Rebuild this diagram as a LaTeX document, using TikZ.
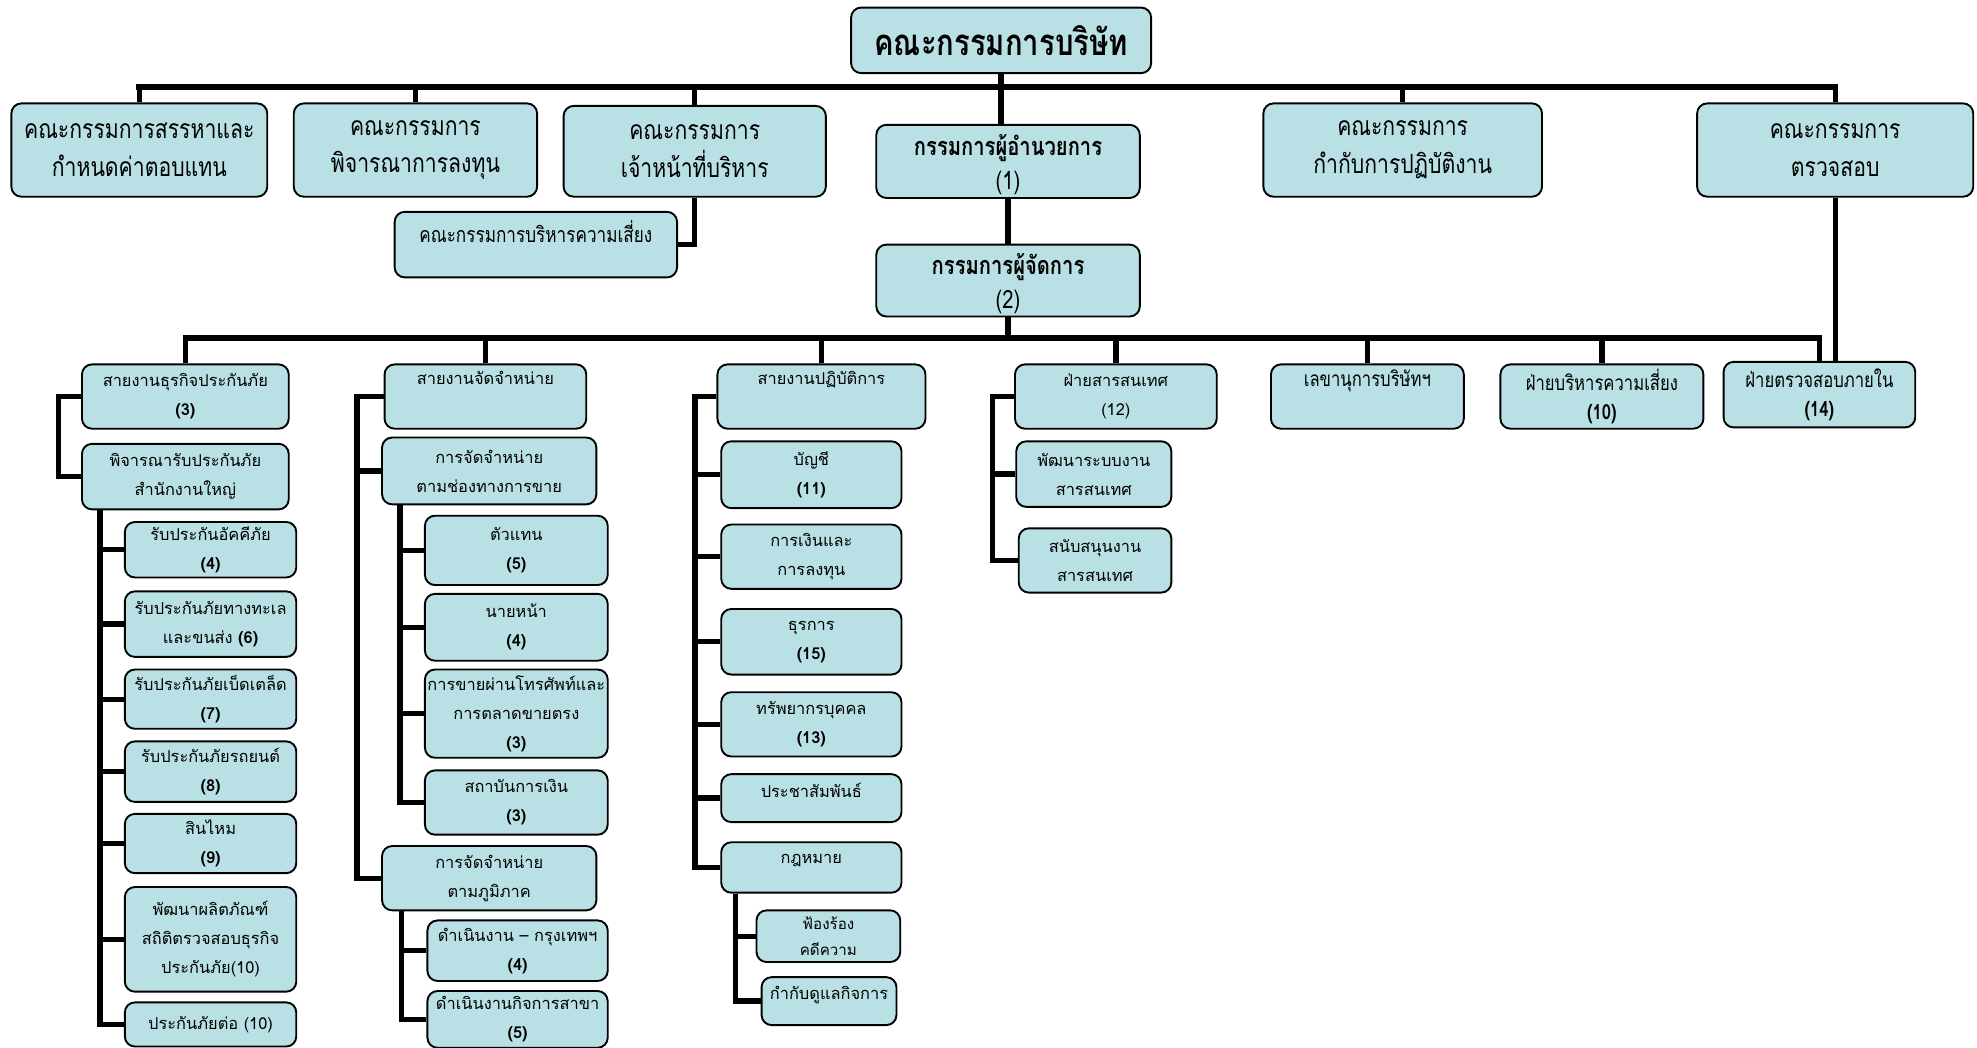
\documentclass[tikz,border=0pt]{standalone}
\usepackage{fontspec}
\setmainfont{Loma}[Script=Thai]
\newfontfamily\narrowthai{Loma}[Script=Thai,FakeStretch=0.8]
\definecolor{boxfill}{RGB}{185,224,228}

\begin{document}
\begin{tikzpicture}[x=1pt, y=-1pt,
    box/.style={draw=black, line width=1.5pt, rounded corners=8pt, fill=boxfill, align=center, inner sep=2pt},
    board/.style={box, font=\narrowthai\bfseries\fontsize{29}{30}\selectfont},
    comm/.style={box, font=\narrowthai\fontsize{21}{30}\selectfont},
    head/.style={box, inner ysep=0pt, font=\narrowthai\fontsize{20}{27}\selectfont},
    unit/.style={box, font=\fontsize{13}{23}\selectfont},
    unitn/.style={box, font=\narrowthai\fontsize{16.5}{23}\selectfont},
    link/.style={line width=4.2pt},
    bus/.style={line width=4.5pt, line cap=rect}]
  \useasboundingbox (0,0) rectangle (1568,831);

  % board and committees
  \node[board, minimum width=238, minimum height=52] (board) at (794,32) {คณะกรรมการบริษัท};
  \node[comm, minimum width=203, minimum height=74] (c1) at (110.5,119) {คณะกรรมการสรรหาและ\\กำหนดค่าตอบแทน};
  \node[comm, minimum width=193, minimum height=74] (c2) at (329.5,119) {คณะกรรมการ\\พิจารณาการลงทุน};
  \node[comm, minimum width=208, minimum height=72] (c3) at (551,120) {คณะกรรมการ\\เจ้าหน้าที่บริหาร};
  \node[head, minimum width=209, minimum height=58] (ceo) at (799.5,128) {\rule{0pt}{22pt}\textbf{กรรมการผู้อำนวยการ}\\(1)};
  \node[comm, minimum width=221, minimum height=74] (c4) at (1112.5,119) {คณะกรรมการ\\กำกับการปฏิบัติงาน};
  \node[comm, minimum width=219, minimum height=74] (c5) at (1455.5,119) {คณะกรรมการ\\ตรวจสอบ};
  \node[comm, font=\narrowthai\fontsize{17}{28}\selectfont, minimum width=224, minimum height=52] (risk) at (425,194) {คณะกรรมการบริหารความเสี่ยง\\[-16pt]\strut};
  \node[head, minimum width=209, minimum height=57] (md) at (799.5,222.5) {\rule{0pt}{22pt}\textbf{กรรมการผู้จัดการ}\\(2)};

  % divisions
  \node[unit, minimum width=164, minimum height=51] (d1) at (147,314.5) {สายงานธุรกิจประกันภัย\\\textbf{(3)}};
  \node[unit, minimum width=160, minimum height=51] (d2) at (385,314.5) {สายงานจัดจำหน่าย\\\strut};
  \node[unit, minimum width=165, minimum height=51] (d3) at (651.5,314.5) {สายงานปฏิบัติการ\\\strut};
  \node[unit, minimum width=160, minimum height=51] (d4) at (885,314.5) {ฝ่ายสารสนเทศ\\(12)};
  \node[unitn, minimum width=153, minimum height=51] (d5) at (1084.5,314.5) {เลขานุการบริษัทฯ\\\strut};
  \node[unitn, minimum width=161, minimum height=51] (d6) at (1270.5,314.5) {ฝ่ายบริหารความเสี่ยง\\\textbf{(10)}};
  \node[unitn, minimum width=152, minimum height=52] (d7) at (1443,313) {ฝ่ายตรวจสอบภายใน\\\textbf{(14)}};

  % insurance
  \node[unit, minimum width=164, minimum height=52] (d1a) at (147,378) {พิจารณารับประกันภัย\\สำนักงานใหญ่};
  \node[unit, minimum width=136, minimum height=44] (k1) at (167,436) {รับประกันอัคคีภัย\\\textbf{(4)}};
  \node[unit, minimum width=136, minimum height=52] (k2) at (167,495) {รับประกันภัยทางทะเล\\และขนส่ง \textbf{(6)}};
  \node[unit, minimum width=136, minimum height=47] (k3) at (167,554.5) {รับประกันภัยเบ็ดเตล็ด\\\textbf{(7)}};
  \node[unit, minimum width=136, minimum height=48] (k4) at (167,612) {รับประกันภัยรถยนต์\\\textbf{(8)}};
  \node[unit, minimum width=136, minimum height=47] (k5) at (167,669) {สินไหม\\\textbf{(9)}};
  \node[unit, minimum width=136, minimum height=83] (k6) at (167,745) {พัฒนาผลิตภัณฑ์\\สถิติตรวจสอบธุรกิจ\\ประกันภัย(10)};
  \node[unit, minimum width=136, minimum height=35] (k7) at (167,812.5) {ประกันภัยต่อ (10)};

  % distribution
  \node[unit, minimum width=170, minimum height=53] (d2a) at (388,373.5) {การจัดจำหน่าย\\ตามช่องทางการขาย};
  \node[unit, minimum width=145, minimum height=55] (s1) at (409.5,436.5) {ตัวแทน\\\textbf{(5)}};
  \node[unit, minimum width=145, minimum height=53] (s2) at (409.5,497.5) {นายหน้า\\\textbf{(4)}};
  \node[unit, minimum width=145, minimum height=70] (s3) at (409.5,566) {การขายผ่านโทรศัพท์และ\\การตลาดขายตรง\\\textbf{(3)}};
  \node[unit, minimum width=145, minimum height=51] (s4) at (409.5,636.5) {สถาบันการเงิน\\\textbf{(3)}};
  \node[unit, minimum width=170, minimum height=51] (d2b) at (388,696.5) {การจัดจำหน่าย\\ตามภูมิภาค};
  \node[unit, minimum width=143, minimum height=48] (r1) at (410.5,754) {ดำเนินงาน – กรุงเทพฯ\\\textbf{(4)}};
  \node[unit, minimum width=143, minimum height=45] (r2) at (410.5,808.5) {ดำเนินงานกิจการสาขา\\\textbf{(5)}};

  % operations
  \node[unit, minimum width=143, minimum height=53] (o1) at (643.5,376.5) {บัญชี\\\textbf{(11)}};
  \node[unit, minimum width=143, minimum height=51] (o2) at (643.5,441.5) {การเงินและ\\การลงทุน};
  \node[unit, minimum width=143, minimum height=52] (o3) at (643.5,509) {ธุรการ\\\textbf{(15)}};
  \node[unit, minimum width=143, minimum height=51] (o4) at (643.5,574.5) {ทรัพยากรบุคคล\\\textbf{(13)}};
  \node[unit, minimum width=143, minimum height=38] (o5) at (643.5,633) {ประชาสัมพันธ์\\[-17pt]\strut};
  \node[unit, minimum width=143, minimum height=40] (o6) at (643.5,688) {กฎหมาย\\[-17pt]\strut};
  \node[unit, font=\fontsize{12}{21}\selectfont, minimum width=114, minimum height=41] (l1) at (657,742.5) {ฟ้องร้อง\\คดีความ};
  \node[unit, minimum width=107, minimum height=38] (l2) at (657.5,794) {กำกับดูแลกิจการ\\[-17pt]\strut};

  % it
  \node[unit, minimum width=123, minimum height=52] (i1) at (867.5,376) {พัฒนาระบบงาน\\สารสนเทศ};
  \node[unit, minimum width=121, minimum height=51] (i2) at (868.5,444.5) {สนับสนุนงาน\\สารสนเทศ};

  % upper lines
  \coordinate (bus1) at (794,69);
  \coordinate (bus2) at (798,268);
  \draw[bus] (c1.north |- bus1) -- (c5.north |- bus1);
  \draw[link] (board.south) -- (board.south |- ceo.north);
  \foreach \c in {c1,c2,c3,c4,c5}
    \draw[link] (\c.north |- bus1) -- (\c.north);
  \draw[link] (c3.south) |- (risk.east);
  \draw[link] (ceo.south) -- (md.north);
  \draw[bus] (d1.north |- bus2) -- (d7.north |- bus2);
  \draw[link] (md.south) -- (md.south |- bus2);
  \foreach \i in {1,...,7}
    \draw[link] (d\i.north |- bus2) -- (d\i.north);
  \draw[link] (c5.south) -- (c5.south |- d7.north);

  % lower lines
  \draw[link] (d1.west) -- ++(-18,0) |- (d1a.west);
  \draw[link] (d1a.south -| k1.west) ++(-19,0) coordinate (tk1) |- (k7.west);
  \foreach \k in {k1,k2,k3,k4,k5,k6}
    \draw[link] (tk1 |- \k.west) -- (\k.west);
  \draw[link] (d2.west) -- ++(-21,0) coordinate (tk2) |- (d2b.west);
  \draw[link] (tk2 |- d2a.west) -- (d2a.west);
  \draw[link] (d2a.south -| s1.west) ++(-19,0) coordinate (tk2a) |- (s4.west);
  \foreach \s in {s1,s2,s3}
    \draw[link] (tk2a |- \s.west) -- (\s.west);
  \draw[link] (d2b.south -| r1.west) ++(-20,0) coordinate (tk2b) |- (r2.west);
  \draw[link] (tk2b |- r1.west) -- (r1.west);
  \draw[link] (d3.west) -- ++(-17,0) coordinate (tk3) |- (o6.west);
  \foreach \o in {o1,o2,o3,o4,o5}
    \draw[link] (tk3 |- \o.west) -- (\o.west);
  \draw[link] (o6.south -| l1.west) ++(-16,0) coordinate (tk3a) |- (l2.west);
  \draw[link] (tk3a |- l1.west) -- (l1.west);
  \draw[link] (d4.west) -- ++(-17,0) coordinate (tk4) |- (i2.west);
  \draw[link] (tk4 |- i1.west) -- (i1.west);
\end{tikzpicture}
\end{document}
